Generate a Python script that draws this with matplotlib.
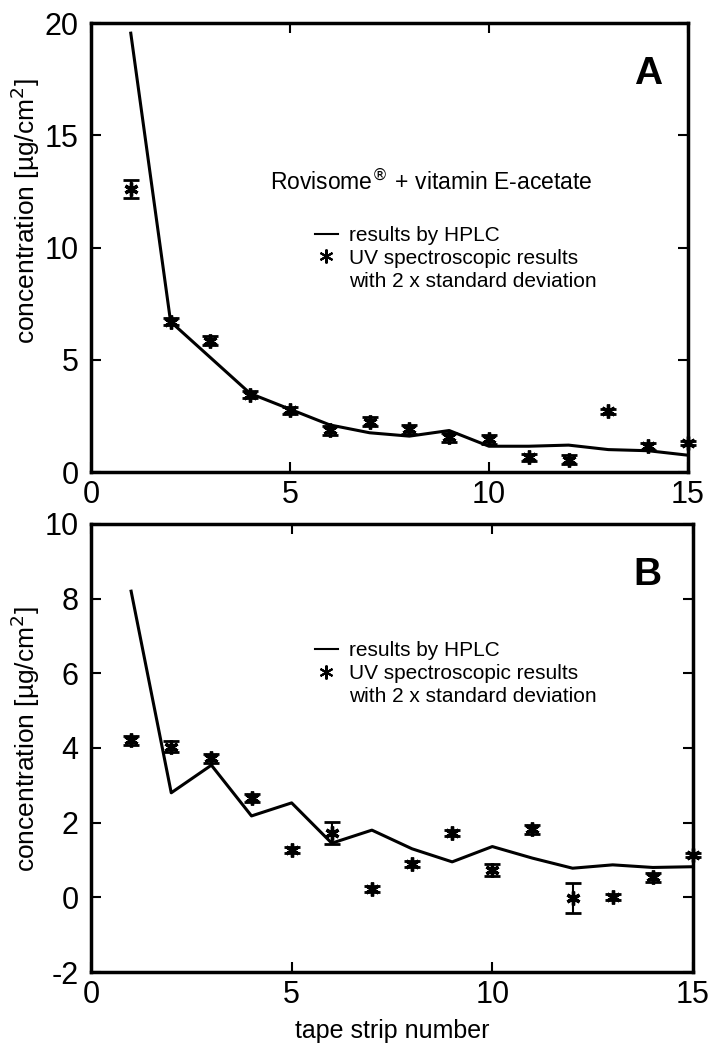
import matplotlib.pyplot as plt
from matplotlib.lines import Line2D
import numpy as np

plt.rcParams['font.family'] = ['Liberation Sans', 'DejaVu Sans']
plt.rcParams['axes.unicode_minus'] = False

# tape strip numbers
strips = np.arange(1, 16)

# panel A: Rovisome + vitamin E-acetate
hplc_a = [19.55, 6.7, 5.1, 3.5, 2.8, 2.1, 1.75, 1.6, 1.85, 1.15, 1.15, 1.2, 1.0, 0.95, 0.75]
uv_a = [12.6, 6.7, 5.85, 3.45, 2.75, 1.87, 2.23, 1.9, 1.55, 1.45, 0.65, 0.55, 2.7, 1.15, 1.3]
uv_a_err = [0.4, 0.15, 0.2, 0.15, 0.15, 0.2, 0.2, 0.2, 0.2, 0.2, 0.15, 0.2, 0.12, 0.15, 0.1]

# panel B
hplc_b = [8.2, 2.8, 3.54, 2.18, 2.53, 1.45, 1.8, 1.3, 0.95, 1.36, 1.05, 0.78, 0.87, 0.8, 0.82]
uv_b = [4.21, 4.03, 3.73, 2.66, 1.27, 1.73, 0.22, 0.88, 1.72, 0.73, 1.82, -0.02, 0.0, 0.54, 1.14]
uv_b_err = [0.12, 0.15, 0.12, 0.12, 0.08, 0.3, 0.08, 0.08, 0.08, 0.15, 0.12, 0.4, 0.08, 0.12, 0.05]

ast = (6, 2, 0)  # asterisk marker

fig = plt.figure(figsize=(7.13, 10.49), dpi=100)
ax_a = fig.add_axes([0.1276, 0.5500, 0.8373, 0.4280])
ax_b = fig.add_axes([0.1276, 0.0734, 0.8443, 0.4271])


def draw_panel(ax, hplc, uv, err, ylim, yticks, letter, letter_x, label_y):
    ax.plot(strips, hplc, color='black', lw=2.2, clip_on=False, zorder=2)
    ax.errorbar(strips, uv, yerr=err, fmt='none', ecolor='black', elinewidth=1.5,
                capsize=6, capthick=2, clip_on=False, zorder=3)
    ax.plot(strips, uv, ls='none', marker=ast, ms=10, mew=2.4, color='black',
            clip_on=False, zorder=4)
    ax.set_xlim(0, 15)
    ax.set_ylim(*ylim)
    ax.set_xticks([0, 5, 10, 15])
    ax.set_yticks(yticks)
    ax.tick_params(direction='in', top=True, right=True, length=7, width=1.5,
                   labelsize=22)
    ax.tick_params(axis='y', pad=9)
    ax.tick_params(axis='x', pad=6)
    for s in ax.spines.values():
        s.set_linewidth(2.5)
    ax.set_ylabel('concentration [µg/cm$^2$]', fontsize=19)
    ax.yaxis.set_label_coords(-0.082, label_y)
    ax.text(letter_x, 0.886, letter, transform=ax.transAxes, ha='right', va='center',
            fontsize=28, fontweight='bold')
    handles = [Line2D([], [], color='black', lw=1.5),
               Line2D([], [], ls='none', marker=ast, ms=10, mew=1.5, color='black'),
               Line2D([], [], ls='none')]
    labels = ['results by HPLC', 'UV spectroscopic results', 'with 2 x standard deviation']
    return handles, labels


legend_kw = dict(loc='upper left', frameon=False, fontsize=15, handlelength=1.1,
                 handletextpad=0.55, labelspacing=0.18, borderpad=0, borderaxespad=0)

h, l = draw_panel(ax_a, hplc_a, uv_a, uv_a_err, (0, 20), [0, 5, 10, 15, 20], 'A', 0.956, 0.58)
ax_a.legend(h, l, bbox_to_anchor=(0.375, 0.548), **legend_kw)
ax_a.text(0.570, 0.646, 'Rovisome$^{\\circledR}$ + vitamin E-acetate', transform=ax_a.transAxes,
          ha='center', va='center', fontsize=16.5)

h, l = draw_panel(ax_b, hplc_b, uv_b, uv_b_err, (-2, 10), [-2, 0, 2, 4, 6, 8, 10], 'B', 0.948, 0.52)
ax_b.legend(h, l, bbox_to_anchor=(0.372, 0.738), **legend_kw)
ax_b.set_xlabel('tape strip number', fontsize=18, labelpad=6)

fig.savefig('out.png', dpi=100)
